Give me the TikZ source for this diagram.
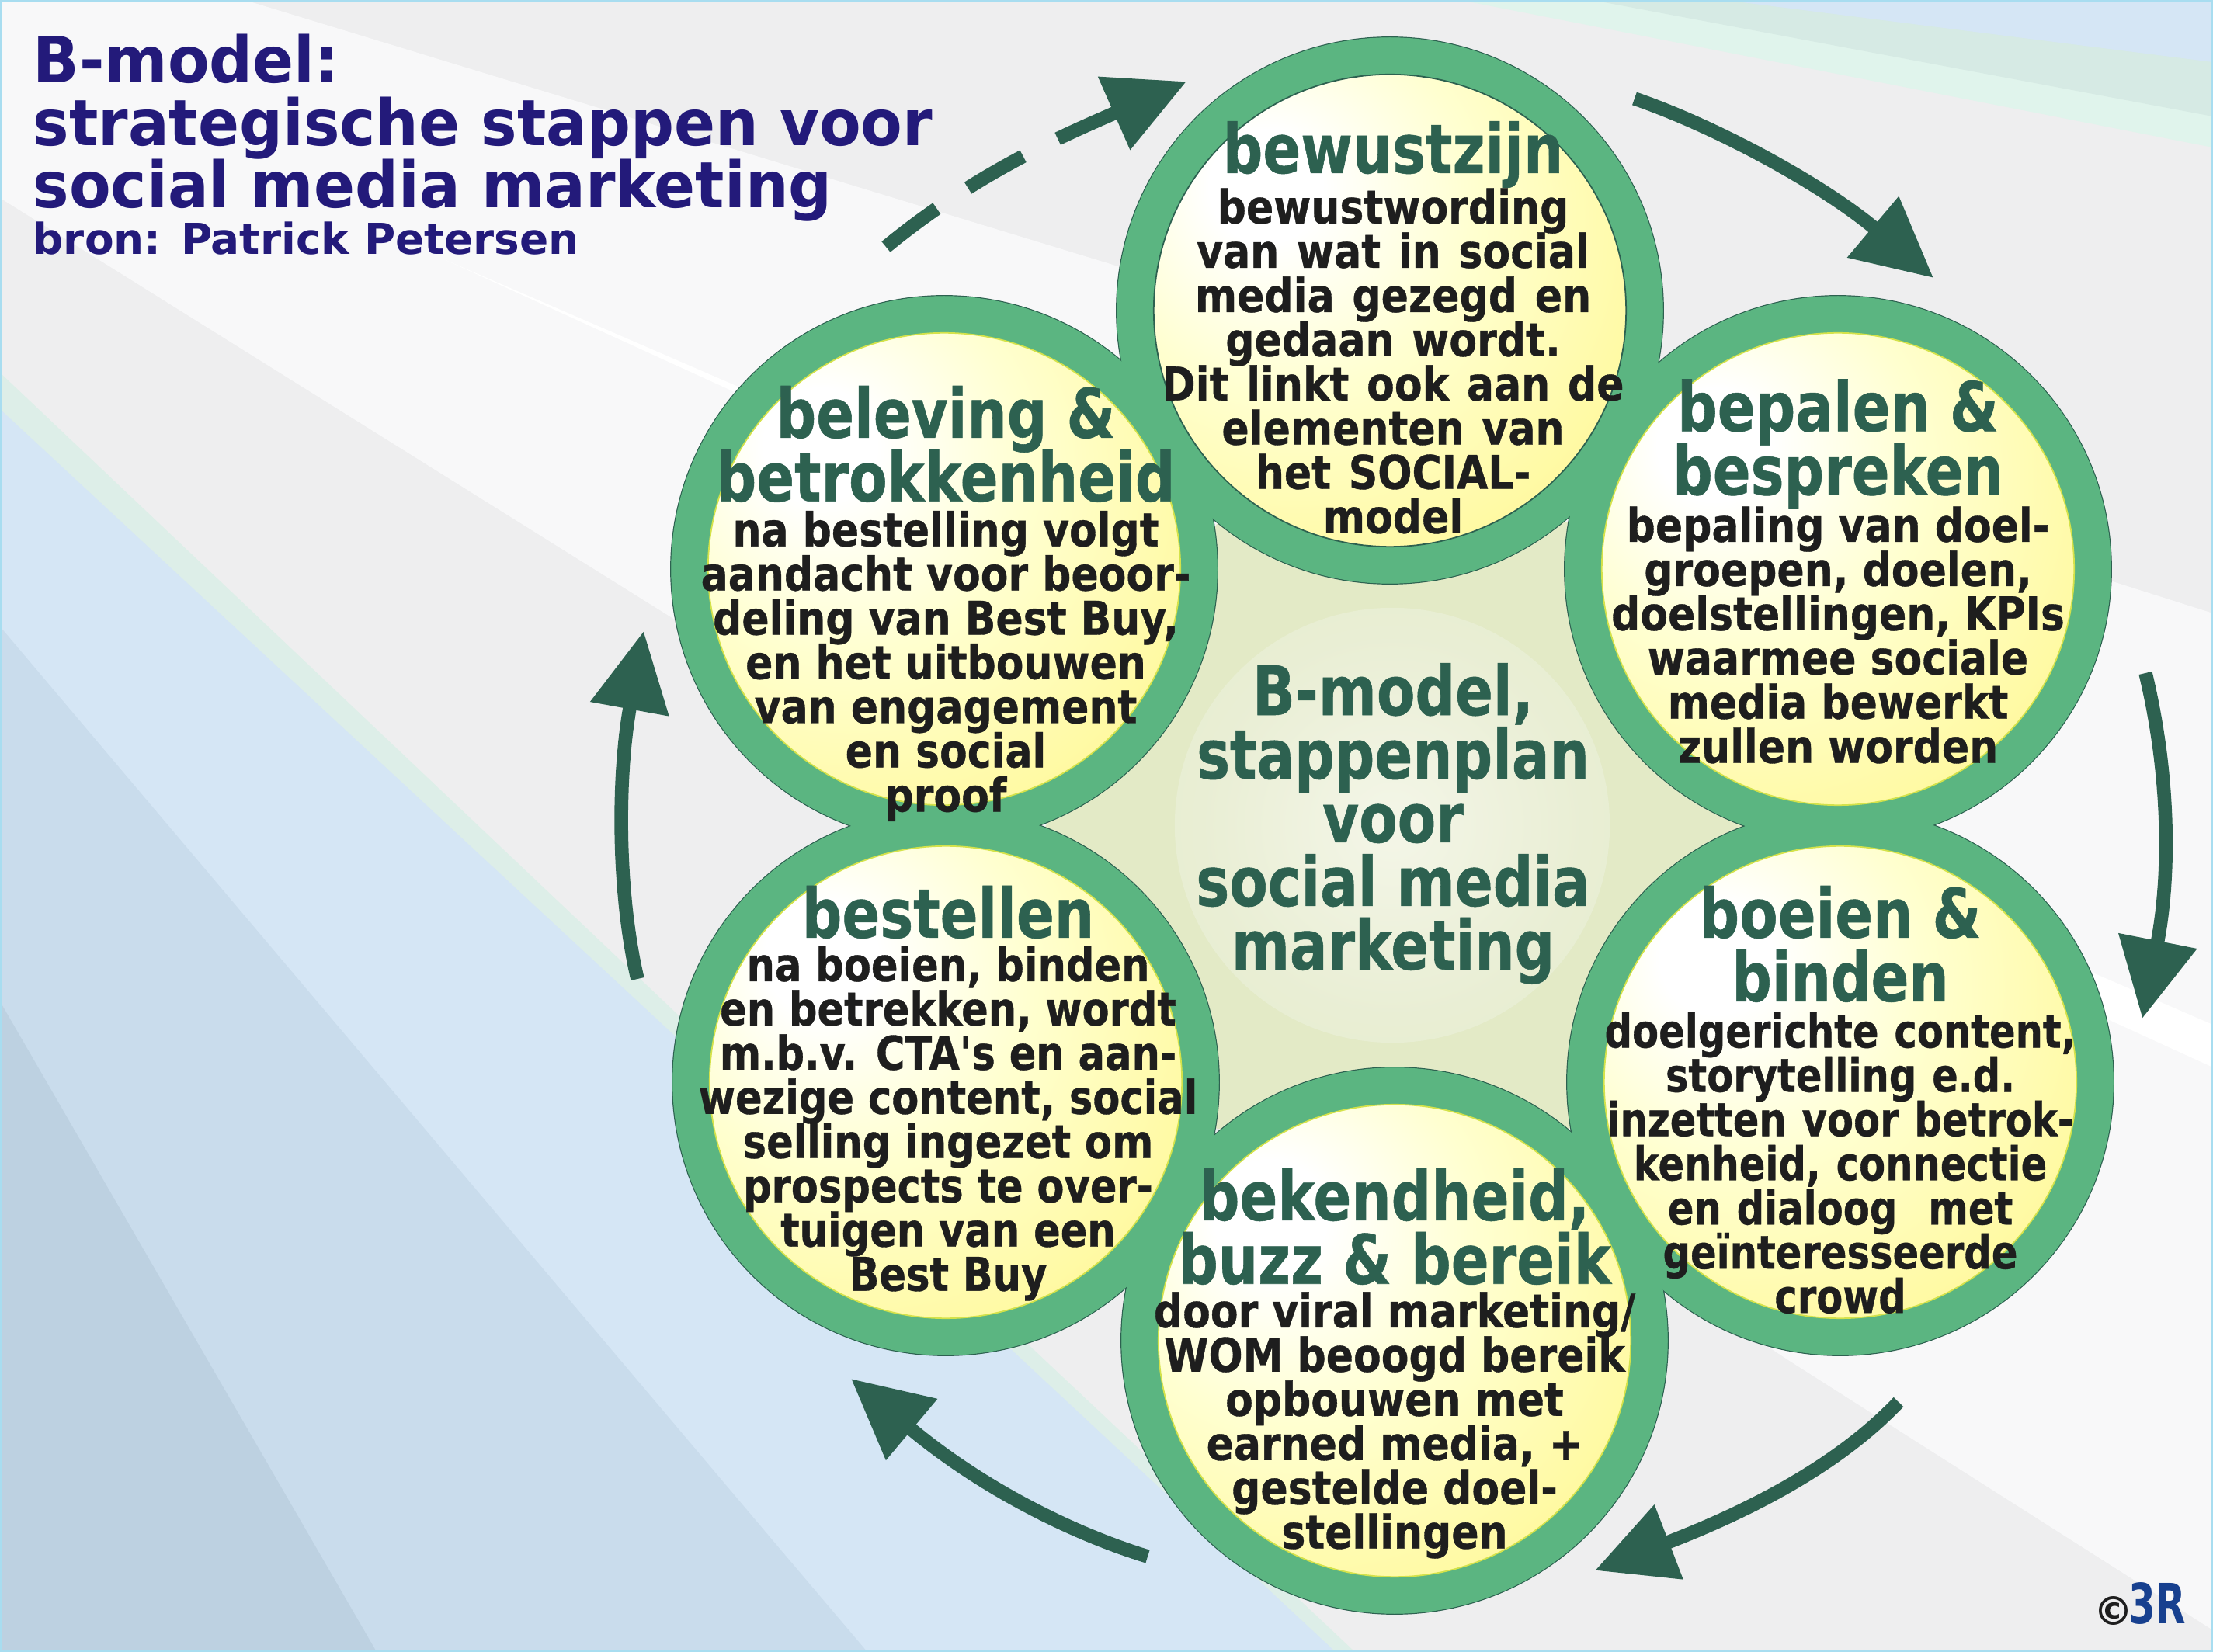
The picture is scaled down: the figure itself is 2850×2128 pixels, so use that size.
\documentclass[tikz,border=0pt]{standalone}
\usepackage{fontspec}
\usetikzlibrary{arrows.meta,shadings}
\setmainfont{DejaVu Sans}
\newfontfamily\bodyfam{DejaVu Sans}[FakeStretch=0.87,BoldFeatures={FakeBold=0.6}]
\newfontfamily\bodytop{DejaVu Sans}[FakeStretch=0.871,WordSpace=1.25,BoldFeatures={FakeBold=0.6}]
\newfontfamily\bodyrb{DejaVu Sans}[FakeStretch=0.83,WordSpace=1.15,BoldFeatures={FakeBold=0.6}]
\newfontfamily\bodylb{DejaVu Sans}[FakeStretch=0.855,BoldFeatures={FakeBold=0.6}]
\newfontfamily\headfam{DejaVu Sans}[FakeStretch=0.82,BoldFeatures={FakeBold=0.6}]
\newfontfamily\titlefam{DejaVu Sans}[FakeStretch=0.95]
\newfontfamily\logofam{DejaVu Sans}[FakeStretch=0.7]
\newcommand{\tightlines}{\lineskiplimit=-30pt\relax\lineskip=0pt\relax}
\definecolor{bggray}{HTML}{EEEEEF}
\definecolor{bglight}{HTML}{F8F8F9}
\definecolor{mintA}{HTML}{DDEEE8}
\definecolor{mintB}{HTML}{E0F4EC}
\definecolor{mintC}{HTML}{D6EAE4}
\definecolor{blueA}{HTML}{D5E6F5}
\definecolor{blueB}{HTML}{C9DCEC}
\definecolor{blueC}{HTML}{BDD1E1}
\definecolor{frameC}{HTML}{A8DDF0}
\definecolor{ringC}{HTML}{5BB581}
\definecolor{darkG}{HTML}{2D6150}
\definecolor{bodyC}{HTML}{1E1E1E}
\definecolor{titleC}{HTML}{231A7A}
\definecolor{logoC}{HTML}{17408F}
\definecolor{hexC}{HTML}{E3EAC6}
\definecolor{ctrA}{HTML}{F4F6E8}
\definecolor{ctrB}{HTML}{E9EED4}
\definecolor{ballA}{HTML}{FFFFFF}
\definecolor{ballB}{HTML}{FFFFD0}
\definecolor{ballC}{HTML}{FFF9A0}
\definecolor{ballD}{HTML}{FFF080}
\definecolor{ballEdge}{HTML}{D4E24A}
\pgfdeclareradialshading{ballshade}{\pgfpoint{-14bp}{14bp}}{color(0bp)=(ballA); color(6bp)=(ballA); color(20bp)=(ballB); color(38bp)=(ballC); color(58bp)=(ballD); color(100bp)=(ballD)}
\pgfdeclareradialshading{ctrshade}{\pgfpoint{0bp}{0bp}}{color(0bp)=(ctrA); color(22bp)=(ctrB); color(50bp)=(hexC); color(100bp)=(hexC)}
\tikzset{
  ringnode/.style={circle,inner sep=0pt,minimum size=7.04cm,fill=ringC,draw=darkG,line width=0.4pt},
  ringfill/.style={circle,inner sep=0pt,minimum size=7.03cm,fill=ringC},
  ballnode/.style={circle,inner sep=0pt,minimum size=6.08cm,shading=ballshade,draw=ballEdge,line width=0.5pt},
  headtxt/.style={inner sep=0pt,align=center,text=darkG,font=\headfam\bfseries\fontsize{25}{23.3}\selectfont\tightlines},
  bodytxt/.style={inner sep=0pt,align=center,text=bodyC,font=\bodyfam\bfseries\fontsize{17}{16.2}\selectfont\tightlines},
  titletxt/.style={inner sep=0pt,anchor=base west,text=titleC,font=\titlefam\bfseries\fontsize{23.4}{23}\selectfont},
  flowarrow/.style={draw=darkG,line width=5pt,-{Triangle[length=29pt,width=28pt]}},
}
\begin{document}
\begin{tikzpicture}[x=0.01cm,y=-0.01cm]
\useasboundingbox (0,0) rectangle (2850,2128);
% background
\fill[bggray] (0,0) rectangle (2850,2128);
\fill[bglight] (0,0) -- (315,0) -- (1430,340) -- (2850,790) -- (2850,2100) -- (2303,1752) -- (893,813) -- (128,335) -- (0,255) -- cycle;
\fill[white] (574,335) -- (2850,1320) -- (2850,1375) -- cycle;
\fill[mintB] (1880,0) -- (2850,190) -- (2850,0) -- cycle;
\fill[mintC] (2050,0) -- (2850,150) -- (2850,0) -- cycle;
\fill[blueA] (2220,0) -- (2850,80) -- (2850,0) -- cycle;
\fill[mintA] (0,480) -- (893,1326) -- (1745,2128) -- (0,2128) -- cycle;
\fill[blueA] (0,527) -- (872,1337) -- (1720,2128) -- (0,2128) -- cycle;
\fill[blueB] (0,807) -- (1000,1990) -- (1117,2128) -- (0,2128) -- cycle;
\fill[blueC] (0,1290) -- (485,2128) -- (0,2128) -- cycle;
\draw[frameC,line width=1.4pt] (0,0) rectangle (2850,2128);
% centre
\fill[hexC] (1567,675) -- (2019,672) -- (2248,1063) -- (2021,1454) -- (1567,1454) -- (1345,1067) -- cycle;
\node[circle,inner sep=0pt,minimum size=5.6cm,shading=ctrshade] (ctr) at (1793,1063) {};
% rings
\node[ringnode] (r1) at (1790,400) {};
\node[ringnode] (r2) at (2367,733) {};
\node[ringnode] (r3) at (2370,1394) {};
\node[ringnode] (r4) at (1796,1727) {};
\node[ringnode] (r5) at (1218,1394) {};
\node[ringnode] (r6) at (1216,733) {};
\node[ringfill] (f1) at (r1) {};
\node[ringfill] (f2) at (r2) {};
\node[ringfill] (f3) at (r3) {};
\node[ringfill] (f4) at (r4) {};
\node[ringfill] (f5) at (r5) {};
\node[ringfill] (f6) at (r6) {};
\node[ballnode,draw=darkG] (b1) at (r1) {};
\node[ballnode] (b2) at (r2) {};
\node[ballnode] (b3) at (r3) {};
\node[ballnode] (b4) at (r4) {};
\node[ballnode] (b5) at (r5) {};
\node[ballnode] (b6) at (r6) {};
% arrows
\coordinate (a1s) at (2105,127);  \coordinate (a1e) at (2490,358);
\coordinate (a2s) at (2763,867);  \coordinate (a2e) at (2759,1312);
\coordinate (a3s) at (2445,1806); \coordinate (a3e) at (2054,2023);
\coordinate (a4s) at (1478,2005); \coordinate (a4e) at (1096,1776);
\coordinate (a5s) at (821,1261);  \coordinate (a5e) at (829,813);
\coordinate (a6s) at (1141,318);  \coordinate (a6e) at (1528,105);
\draw[flowarrow] (a1s) .. controls (2215,165) and (2350,240) .. (a1e);
\draw[flowarrow] (a2s) .. controls (2795,1000) and (2795,1130) .. (a2e);
\draw[flowarrow] (a3s) .. controls (2370,1885) and (2259,1944) .. (a3e);
\draw[flowarrow] (a4s) .. controls (1380,1975) and (1263,1916) .. (a4e);
\draw[flowarrow] (a5s) .. controls (795,1150) and (795,1000) .. (a5e);
\draw[flowarrow,dash pattern=on 23.3pt off 13.7pt on 23.3pt off 14.2pt on 80pt] (a6s) .. controls (1260,220) and (1380,170) .. (a6e);
% title
\node[titletxt] (t1) at (42,107) {B-model:};
\node[titletxt] (t2) at (42,188) {strategische stappen voor};
\node[titletxt] (t3) at (42,268) {social media marketing};
\node[inner sep=0pt,anchor=base west,text=titleC,font=\bfseries\fontsize{15.6}{16}\selectfont] (t4) at (42,328) {bron: Patrick Petersen};
% circle texts
\node[headtxt] (h1) at (1794,199) {bewustzijn};
\node[bodytxt,font=\bodytop\bfseries\fontsize{17}{16.2}\selectfont\tightlines] (d1) at (1794,465) {bewustwording\\van wat in social\\media gezegd en\\gedaan wordt.\\Dit linkt ook aan de\\elementen van\\het SOCIAL-\\model};
\node[headtxt] (h2) at (2367,572) {bepalen \&\\bespreken};
\node[bodytxt] (d2) at (2367,818) {bepaling van doel-\\groepen, doelen,\\doelstellingen, KPIs\\waarmee sociale\\media bewerkt\\zullen worden};
\node[headtxt] (h3) at (2370,1216) {boeien \&\\binden};
\node[bodytxt,font=\bodyrb\bfseries\fontsize{17}{16.2}\selectfont\tightlines] (d3) at (2370,1498) {doelgerichte content,\\storytelling e.d.\\inzetten voor betrok-\\kenheid, connectie\\en dialoog~ met\\geïnteresseerde\\crowd};
\node[headtxt] (h4) at (1796,1580) {bekendheid,\\buzz \& bereik};
\node[bodytxt] (d4) at (1796,1836) {door viral marketing/\\WOM beoogd bereik\\opbouwen met\\earned media, +\\gestelde doel-\\stellingen};
\node[headtxt] (h5) at (1221,1175) {bestellen};
\node[bodytxt,font=\bodylb\bfseries\fontsize{17}{16.2}\selectfont\tightlines] (d5) at (1221,1447) {na boeien, binden\\en betrekken, wordt\\m.b.v. CTA's en aan-\\wezige content, social\\selling ingezet om\\prospects te over-\\tuigen van een\\Best Buy};
\node[headtxt] (h6) at (1218,572) {beleving \&\\betrokkenheid};
\node[bodytxt] (d6) at (1218,858) {na bestelling volgt\\aandacht voor beoor-\\deling van Best Buy,\\en het uitbouwen\\van engagement\\en social\\proof};
\node[headtxt] (h0) at (1794,1061) {B-model,\\stappenplan\\voor\\social media\\marketing};
% logo
\node[inner sep=0pt,text=bodyC,font=\bfseries\fontsize{14.5}{15}\selectfont] (cp) at (2722,2075) {©};
\node[inner sep=0pt,text=logoC,font=\logofam\bfseries\fontsize{20.3}{20}\selectfont] (lg) at (2778,2066) {3R};
\end{tikzpicture}
\end{document}
